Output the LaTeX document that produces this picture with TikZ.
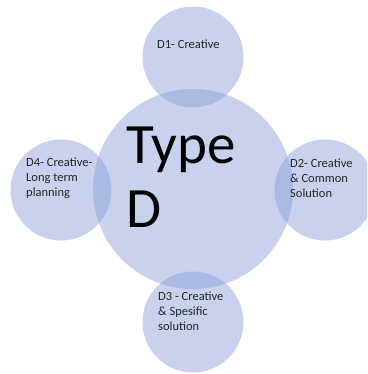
\documentclass[tikz,border=0pt]{standalone}
\usepackage{fontspec}
\setmainfont{Carlito}
\definecolor{bubble}{RGB}{135,157,214}
\begin{document}
\begin{tikzpicture}[x=1pt,y=-1pt,
  bub/.style={circle,fill=bubble,fill opacity=0.46,draw=none,inner sep=0pt,minimum size=#1},
  lab/.style={anchor=base west,align=left,inner sep=0pt,font=\fontsize{12.5}{15}\selectfont,text=black!85}]
\useasboundingbox (0,0) rectangle (367,374);
\clip (0,0) rectangle (367,374);
\node[bub=200pt] (c) at (193,189) {};
\node[bub=101pt] (d1) at (193,57) {};
\node[bub=101pt] (d2) at (325,190) {};
\node[bub=101pt] (d3) at (193,322) {};
\node[bub=101pt] (d4) at (61,190) {};
\node[anchor=base west,align=left,inner sep=0pt,font=\fontsize{57}{64}\selectfont] (t) at (126,227) {Type\\D};
\node[lab] (t1) at (157,49) {D1- Creative};
\node[lab] (t2) at (290,197) {D2- Creative\\\& Common\\Solution};
\node[lab] (t3) at (158,330) {D3 - Creative\\\& Spesific\\solution};
\node[lab] (t4) at (26,196) {D4- Creative-\\Long term\\planning};
\end{tikzpicture}
\end{document}
